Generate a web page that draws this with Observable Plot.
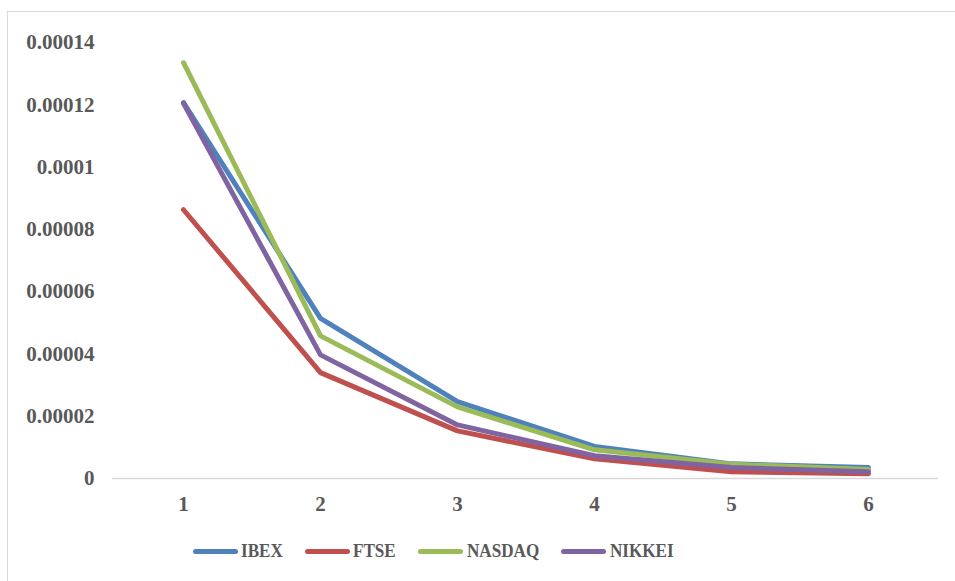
<!DOCTYPE html>
<html>
<head>
<meta charset="utf-8">
<script src="https://cdn.jsdelivr.net/npm/d3@7"></script>
<script src="https://cdn.jsdelivr.net/npm/@observablehq/plot@0.6"></script>
<style>
  html, body { margin: 0; padding: 0; background: #fff; width: 955px; height: 581px; overflow: hidden; }
  #frame { position: absolute; left: 7px; top: 11px; width: 1000px; height: 700px; border: 1px solid #d9d9d9; box-sizing: border-box; }
  #chart { position: absolute; left: 0; top: 0; }
  #legend { position: absolute; left: 0; top: 0; width: 955px; height: 581px;
    font-family: "Liberation Serif", "Times New Roman", serif; font-weight: bold; font-size: 19px; color: #595959; }
  .sw { position: absolute; width: 45px; height: 5px; border-radius: 3px; top: 549px; }
  .lt { position: absolute; top: 539px; transform-origin: 0 50%; transform: scaleX(0.9); white-space: nowrap; line-height: 24px; }
</style>
</head>
<body>
<div id="frame"></div>
<div id="chart"></div>
<div id="legend"></div>
<script>
const periods = [1, 2, 3, 4, 5, 6];
const seriesNames = ["IBEX", "FTSE", "NASDAQ", "NIKKEI"];
const seriesColors = ["#4F81BD", "#C0504D", "#9BBB59", "#8064A2"];
const ibex   = [0.0001207, 0.0000514, 0.0000247, 0.0000103, 0.0000047, 0.0000035];
const ftse   = [0.0000863, 0.0000340, 0.0000153, 0.0000063, 0.0000022, 0.0000015];
const nasdaq = [0.0001335, 0.0000458, 0.0000230, 0.0000092, 0.0000046, 0.0000029];
const nikkei = [0.0001205, 0.0000397, 0.0000172, 0.0000073, 0.0000035, 0.0000022];
const yTicks = [0, 0.00002, 0.00004, 0.00006, 0.00008, 0.0001, 0.00012, 0.00014];
const yTickLabels = ["0", "0.00002", "0.00004", "0.00006", "0.00008", "0.0001", "0.00012", "0.00014"];

const allValues = [ibex, ftse, nasdaq, nikkei];
const rows = [];
seriesNames.forEach((name, si) => {
  periods.forEach((p, i) => rows.push({series: name, period: String(p), value: allValues[si][i]}));
});

const chart = Plot.plot({
  width: 955,
  height: 520,
  marginTop: 42,
  marginBottom: 42,
  marginLeft: 112,
  marginRight: 17,
  style: {fontFamily: "'Liberation Serif', 'Times New Roman', serif", fontWeight: "bold", fontSize: "21px", color: "#595959", background: "transparent"},
  x: {type: "point", domain: periods.map(String), padding: 0.5, label: null},
  y: {domain: [0, 0.00014], label: null},
  color: {domain: seriesNames, range: seriesColors},
  marks: [
    Plot.ruleY([0], {stroke: "#d9d9d9", strokeWidth: 1.5}),
    Plot.axisY({ticks: yTicks, tickSize: 0, tickPadding: 18, label: null, tickFormat: d => yTickLabels[yTicks.indexOf(d)], fill: "#595959", fontWeight: "bold", fontSize: 21}),
    Plot.axisX({tickSize: 0, tickPadding: 18, label: null, fill: "#595959", fontWeight: "bold", fontSize: 21}),
    Plot.line(rows, {x: "period", y: "value", z: "series", stroke: "series", strokeWidth: 5, strokeLinecap: "round", strokeLinejoin: "miter"})
  ]
});
document.getElementById("chart").appendChild(chart);

const legend = document.getElementById("legend");
const swatchX = [193, 305, 418, 561];
const textX = [241, 353, 467, 610];
seriesNames.forEach((name, i) => {
  const sw = document.createElement("div");
  sw.className = "sw";
  sw.style.left = swatchX[i] + "px";
  sw.style.background = seriesColors[i];
  const t = document.createElement("div");
  t.className = "lt";
  t.style.left = textX[i] + "px";
  t.textContent = name;
  legend.appendChild(sw);
  legend.appendChild(t);
});
</script>
</body>
</html>
